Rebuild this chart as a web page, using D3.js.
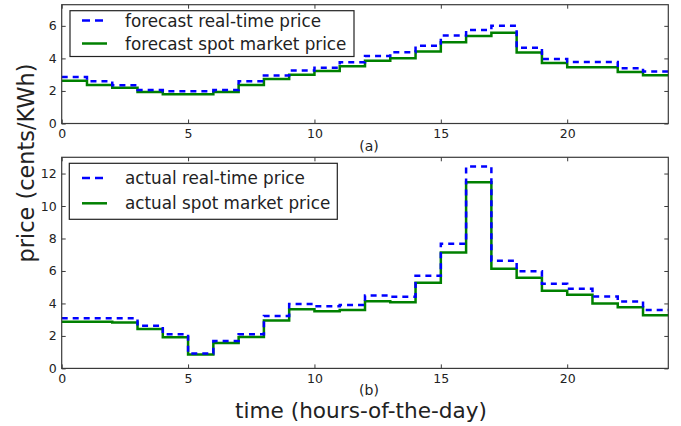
<!DOCTYPE html>
<html>
<head>
<meta charset="utf-8">
<script src="https://cdn.jsdelivr.net/npm/d3@7"></script>
<style>
  html, body { margin: 0; padding: 0; background: #fff; }
  svg { display: block; }
  text { font-family: "DejaVu Sans", sans-serif; fill: #222; }
</style>
</head>
<body>
<svg id="chart" width="681" height="426"></svg>
<script>
// Hour of the day at which each hourly price block starts
const hours = [0, 1, 2, 3, 4, 5, 6, 7, 8, 9, 10, 11, 12, 13, 14, 15, 16, 17, 18, 19, 20, 21, 22, 23];

// (a) forecast prices, cents/KWh
const forecastRealTime = [2.86, 2.60, 2.35, 2.06, 1.98, 1.98, 2.06, 2.60, 2.95, 3.25, 3.43, 3.77,
                          4.15, 4.38, 4.77, 5.40, 5.75, 6.00, 4.65, 3.97, 3.78, 3.78, 3.40, 3.19];
const forecastSpot     = [2.63, 2.37, 2.20, 1.94, 1.80, 1.80, 1.94, 2.37, 2.74, 3.00, 3.23, 3.52,
                          3.86, 4.01, 4.42, 5.00, 5.37, 5.57, 4.36, 3.72, 3.46, 3.46, 3.17, 2.97];

// (b) actual prices, cents/KWh
const actualRealTime   = [3.09, 3.09, 3.09, 2.62, 2.10, 0.91, 1.69, 2.10, 3.23, 3.97, 3.83, 3.91,
                          4.49, 4.41, 5.70, 7.68, 12.43, 6.63, 5.99, 5.21, 4.90, 4.43, 4.12, 3.60];
const actualSpot       = [2.87, 2.87, 2.82, 2.43, 1.92, 0.85, 1.57, 1.94, 2.95, 3.65, 3.52, 3.60,
                          4.14, 4.08, 5.27, 7.14, 11.46, 6.14, 5.58, 4.78, 4.53, 4.00, 3.77, 3.28];

const xTicks = [0, 5, 10, 15, 20];
const yTicksA = [0, 2, 4, 6];
const yTicksB = [0, 2, 4, 6, 8, 10, 12];
const legendA = ["forecast real-time price", "forecast spot market price"];
const legendB = ["actual real-time price", "actual spot market price"];

const svg = d3.select("#chart");
const BLUE = "#0000ff", GREEN = "#008000", FRAME = "#3a3a3a";

const x = d3.scaleLinear().domain([0, 24]).range([61.7, 668.3]);

function panel(cfg) {
  const y = d3.scaleLinear().domain([0, cfg.ymax]).range([cfg.bottom, cfg.top]);
  const g = svg.append("g");

  // step series: each value holds for its whole hour, the last one closes at hour 24
  const pts = v => hours.map((h, i) => [h, v[i]]).concat([[24, v[v.length - 1]]]);
  const line = d3.line().x(d => x(d[0])).y(d => y(d[1])).curve(d3.curveStepAfter);

  g.append("path").attr("d", line(pts(cfg.spot)))
    .attr("fill", "none").attr("stroke", GREEN).attr("stroke-width", 2.5);
  g.append("path").attr("d", line(pts(cfg.realTime)))
    .attr("fill", "none").attr("stroke", BLUE).attr("stroke-width", 2.5)
    .attr("stroke-dasharray", "6,5");

  // axes with inward ticks on all four sides
  const tick = 4;
  const left = g.append("g").attr("transform", `translate(${x(0)},0)`)
    .call(d3.axisLeft(y).tickValues(cfg.yTicks).tickSize(-tick).tickPadding(5).tickFormat(d3.format("d")));
  const right = g.append("g").attr("transform", `translate(${x(24)},0)`)
    .call(d3.axisRight(y).tickValues(cfg.yTicks).tickSize(-tick).tickFormat(""));
  const bottom = g.append("g").attr("transform", `translate(0,${cfg.bottom})`)
    .call(d3.axisBottom(x).tickValues(xTicks).tickSize(-tick).tickPadding(6).tickFormat(d3.format("d")));
  const topAx = g.append("g").attr("transform", `translate(0,${cfg.top})`)
    .call(d3.axisTop(x).tickValues(xTicks).tickSize(-tick).tickFormat(""));
  [left, right, bottom, topAx].forEach(a => {
    a.select(".domain").remove();
    a.selectAll("line").attr("stroke", FRAME).attr("stroke-width", 1);
    a.selectAll("text").style("font-size", "12.5px").attr("fill", "#222")
      .attr("font-family", "DejaVu Sans, sans-serif");
  });

  g.append("rect")
    .attr("x", x(0)).attr("y", cfg.top)
    .attr("width", x(24) - x(0)).attr("height", cfg.bottom - cfg.top)
    .attr("fill", "none").attr("stroke", FRAME).attr("stroke-width", 1.2);

  // legend
  const lg = cfg.legend;
  g.append("rect").attr("x", lg.x0).attr("y", lg.y0)
    .attr("width", lg.x1 - lg.x0).attr("height", lg.y1 - lg.y0)
    .attr("fill", "#fff").attr("stroke", "#222").attr("stroke-width", 1.2);
  const items = [
    { label: cfg.labels[0], color: BLUE, dash: "8,5" },
    { label: cfg.labels[1], color: GREEN, dash: null }
  ];
  items.forEach((it, i) => {
    const cy = lg.rows[i];
    g.append("line").attr("x1", 82).attr("x2", 107).attr("y1", cy).attr("y2", cy)
      .attr("stroke", it.color).attr("stroke-width", 2.5)
      .attr("stroke-dasharray", it.dash);
    g.append("text").attr("x", 125).attr("y", cy + 6)
      .style("font-size", "16.8px").text(it.label);
  });

  g.append("text").attr("x", 369).attr("y", cfg.tagY)
    .attr("text-anchor", "middle").style("font-size", "14px").text(cfg.tag);
}

panel({
  top: 4.7, bottom: 123.5, ymax: 7.3, yTicks: yTicksA,
  realTime: forecastRealTime, spot: forecastSpot, labels: legendA,
  legend: { x0: 70, x1: 354, y0: 10.7, y1: 56.5, rows: [20.5, 43.5] },
  tag: "(a)", tagY: 150.5
});

panel({
  top: 157.3, bottom: 368.4, ymax: 13, yTicks: yTicksB,
  realTime: actualRealTime, spot: actualSpot, labels: legendB,
  legend: { x0: 69.3, x1: 337.3, y0: 163.3, y1: 219.3, rows: [178, 203.3] },
  tag: "(b)", tagY: 395
});

svg.append("text")
  .attr("transform", "translate(34,163) rotate(-90)")
  .attr("text-anchor", "middle").style("font-size", "22.4px")
  .text("price (cents/KWh)");

svg.append("text")
  .attr("x", 361).attr("y", 418)
  .attr("text-anchor", "middle").style("font-size", "21.6px")
  .text("time (hours-of-the-day)");
</script>
</body>
</html>
